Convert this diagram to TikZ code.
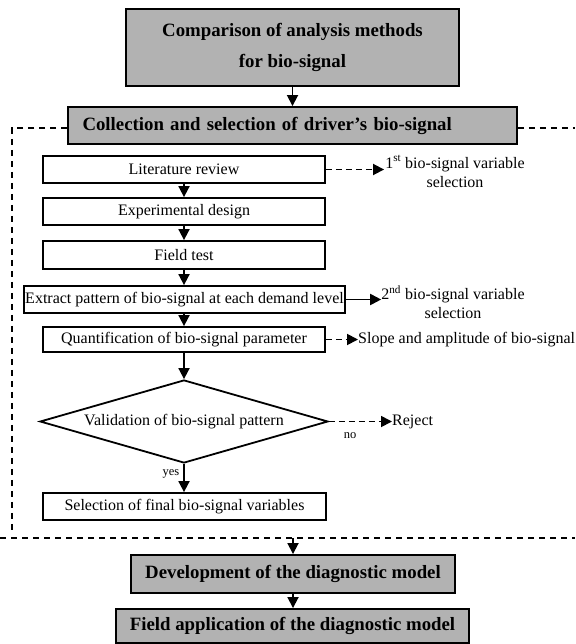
\documentclass[tikz,border=0pt]{standalone}
\usepackage{fontspec}
\setmainfont{Liberation Serif}
\usetikzlibrary{arrows.meta,shapes.geometric}
\begin{document}
\begin{tikzpicture}[x=1pt,y=-1pt,
  every node/.style={font=\fontsize{16}{19}\selectfont},
  graybox/.style={draw, line width=1.9pt, fill=black!30, inner sep=0pt,
    font=\fontsize{18.8}{31}\selectfont\bfseries, align=center},
  whitebox/.style={draw, line width=1.8pt, fill=white, inner sep=0pt},
  arr/.style={line width=1.8pt, -{Triangle[length=11pt,width=11pt]}},
  darr/.style={arr, dash pattern=on 6pt off 4pt},
  frameline/.style={line width=1.7pt, dash pattern=on 6pt off 5pt},
  small/.style={font=\fontsize{12.5}{14}\selectfont, inner sep=0pt},
  sidelabel/.style={align=center, font=\fontsize{16}{19}\selectfont, inner sep=1pt}
]
\useasboundingbox (0,0) rectangle (575,644);

% frame
\coordinate (ftl) at (12,128);
\coordinate (fbl) at (12,533);
\coordinate (ftr) at (575,128);
\coordinate (fb0) at (0,538);
\coordinate (fb1) at (575,538);

% main nodes
\node[graybox, minimum width=333pt, minimum height=77pt] (cmp) at (292.5,47.5)
  {Comparison of analysis methods\\for bio-signal};
\node[graybox, minimum width=449pt, minimum height=37pt, text width=420pt,
  inner xsep=14.5pt, align=left] (col) at (292.5,125.5)
  {Collection and selection of driver's bio-signal};

\draw[frameline] (col.west |- ftl) -- (ftl) -- (fbl);
\draw[frameline] (col.east |- ftr) -- (ftr);
\draw[frameline] (fb0) -- (fb1);

\node[whitebox, minimum width=282pt, minimum height=27pt] (lit) at (184,169.5) {Literature review};
\node[whitebox, minimum width=282pt, minimum height=27pt] (exp) at (184,211.5) {Experimental design};
\node[whitebox, minimum width=282pt, minimum height=28pt] (fld) at (184,255) {Field test};
\node[whitebox, minimum width=321pt, minimum height=27pt] (ext) at (184.5,299.5) {Extract pattern of bio-signal at each demand level};
\node[whitebox, minimum width=282pt, minimum height=25pt] (qnt) at (184,339.5) {Quantification of bio-signal parameter};
\node[diamond, draw, line width=1.8pt, fill=white, minimum width=288pt, minimum height=83pt,
  inner sep=0pt, shape aspect=3.4] (val) at (184,421.5) {Validation of bio-signal pattern};
\node[whitebox, minimum width=283pt, minimum height=27pt] (fin) at (184.5,506.5) {Selection of final bio-signal variables};
\node[graybox, minimum width=324pt, minimum height=38pt] (dev) at (293,574) {Development of the diagnostic model};
\node[graybox, minimum width=353pt, minimum height=34pt] (app) at (292.5,626) {Field application of the diagnostic model};

% side labels
\node[sidelabel] (l1) at (455,171.5) {1\textsuperscript{st} bio-signal variable\\selection};
\node[sidelabel] (l2) at (453,302) {2\textsuperscript{nd} bio-signal variable\\selection};
\node[anchor=west, inner sep=0pt] (slp) at (358,339.5) {Slope and amplitude of bio-signal};
\node[anchor=west, inner sep=0pt] (rej) at (392,421.5) {Reject};
\node[small] (no) at (350,436) {no};
\node[small] (yes) at (171,474) {yes};

% main arrows
\draw[arr] (cmp.south) -- (cmp.south |- col.north);
\draw[arr] (lit.south) -- (lit.south |- exp.north);
\draw[arr] (exp.south) -- (exp.south |- fld.north);
\draw[arr] (fld.south) -- (fld.south |- ext.north);
\draw[arr] (ext.south -| lit.south) -- (lit.south |- qnt.north);
\draw[arr] (qnt.south) -- (val.north);
\draw[arr] (val.south) -- (val.south |- fin.north);
\draw[arr] (dev.north |- fb0) -- (dev.north);
\draw[arr] (dev.south) -- (dev.south |- app.north);

% side arrows
\draw[darr] (lit.east) -- (l1.west |- lit.east);
\draw[arr] (ext.east) -- ([xshift=1pt]l2.west |- ext.east);
\draw[darr] (qnt.east) -- (slp.west);
\draw[darr] (val.east) -- (rej.west);
\end{tikzpicture}
\end{document}
